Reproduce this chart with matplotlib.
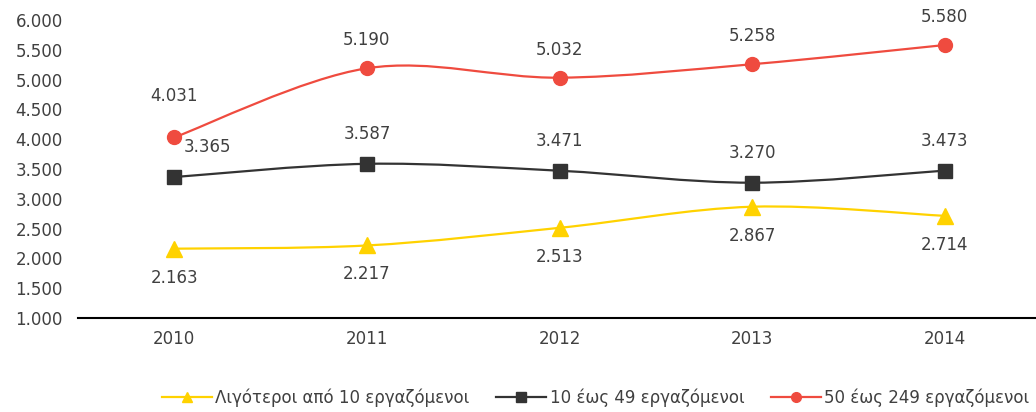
import matplotlib.pyplot as plt
from matplotlib.path import Path
from matplotlib.patches import PathPatch
from matplotlib.lines import Line2D
import numpy as np

years = ['2010', '2011', '2012', '2013', '2014']
small = [2163, 2217, 2513, 2867, 2714]
medium10 = [3365, 3587, 3471, 3270, 3473]
medium50 = [4031, 5190, 5032, 5258, 5580]

labels = ['Λιγότεροι από 10 εργαζόμενοι', '10 έως 49 εργαζόμενοι', '50 έως 249 εργαζόμενοι']
colors = ['#FFD200', '#333333', '#EF4B3F']
markers = ['^', 's', 'o']
text_col = '#404040'

fig = plt.figure(figsize=(10.36, 4.12), dpi=100)
ax = fig.add_axes([78 / 1036, 94 / 412, 963 / 1036, 298 / 412])
ax.set_xlim(-0.5, 4.5)
ax.set_ylim(1000, 6000)


def smooth_path(x, y):
    # Excel style smoothed line: cubic Bezier segments built in pixel space
    pts = ax.transData.transform(np.column_stack([x, y]))
    verts = [pts[0]]
    codes = [Path.MOVETO]
    n = len(pts)
    for i in range(n - 1):
        p0 = pts[i - 1] if i > 0 else pts[i]
        p1, p2 = pts[i], pts[i + 1]
        p3 = pts[i + 2] if i + 2 < n else pts[i + 1]
        c1 = p1 + (p2 - p0) / 6
        c2 = p2 - (p3 - p1) / 6
        verts += [c1, c2, p2]
        codes += [Path.CURVE4] * 3
    verts = ax.transData.inverted().transform(np.array(verts))
    return Path(verts, codes)


xs = np.arange(len(years))
series = [small, medium10, medium50]
for vals, c, m in zip(series, colors, markers):
    ax.add_patch(PathPatch(smooth_path(xs, vals), fill=False, edgecolor=c, lw=1.6, zorder=2))
    ms = 11 if m == '^' else 10
    ax.plot(xs, vals, ls='none', marker=m, color=c, markersize=ms, zorder=3)

# data labels
for i, v in enumerate(small):
    ax.annotate(f'{v/1000:.3f}', (i, v), xytext=(0, -29), textcoords='offset pixels',
                ha='center', va='center', fontsize=12, color=text_col)
for i, v in enumerate(medium10):
    dx = 33 if i == 0 else 0
    ax.annotate(f'{v/1000:.3f}', (i, v), xytext=(dx, 30), textcoords='offset pixels',
                ha='center', va='center', fontsize=12, color=text_col)
for i, v in enumerate(medium50):
    dy = 41 if i == 0 else 28
    ax.annotate(f'{v/1000:.3f}', (i, v), xytext=(0, dy), textcoords='offset pixels',
                ha='center', va='center', fontsize=12, color=text_col)

ax.set_xticks(xs)
ax.set_xticklabels(years)
yt = np.arange(1000, 6001, 500)
ax.set_yticks(yt)
ax.set_yticklabels([f'{t/1000:.3f}' for t in yt])
ax.tick_params(length=0, labelsize=12, colors=text_col)
ax.tick_params(axis='x', pad=9)
ax.tick_params(axis='y', pad=11)
for s in ['top', 'right', 'left']:
    ax.spines[s].set_visible(False)
ax.spines['bottom'].set_color('black')
ax.spines['bottom'].set_linewidth(1.5)

handles = [Line2D([], [], color=c, marker=m, lw=1.6, markersize=7) for c, m in zip(colors, markers)]
fig.legend(handles, labels, loc='center', bbox_to_anchor=(0.575, 0.035), ncol=3,
           frameon=False, fontsize=12, handlelength=3.0, columnspacing=1.6,
           handletextpad=0.2, labelcolor=text_col)

fig.savefig('out.png', dpi=100)
